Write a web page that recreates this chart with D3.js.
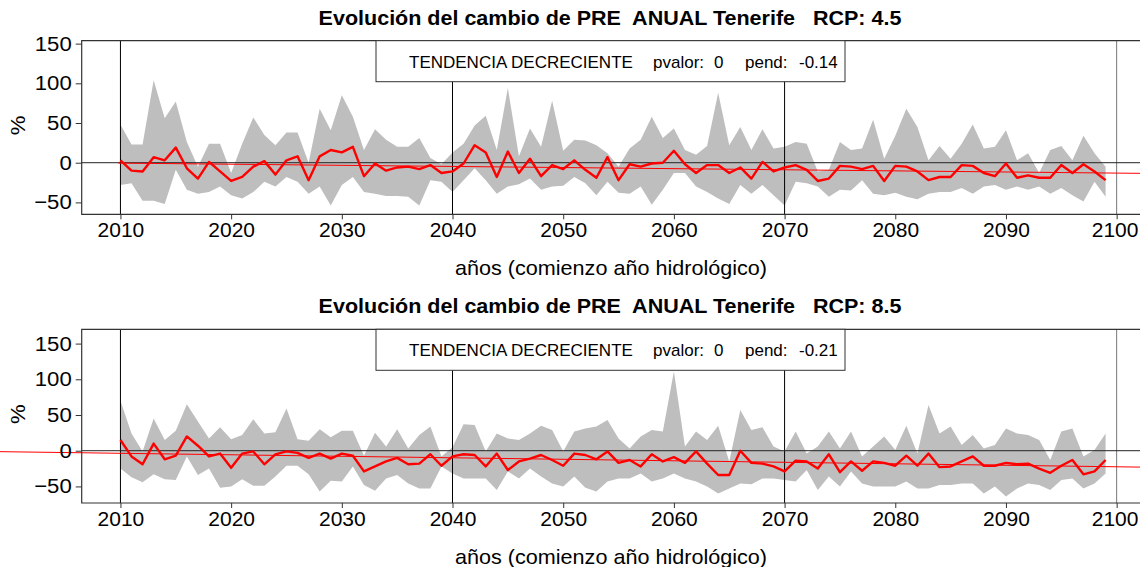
<!DOCTYPE html>
<html>
<head>
<meta charset="utf-8">
<script src="https://cdn.jsdelivr.net/npm/d3@7"></script>
<style>
  body { margin: 0; background: #fff; }
  svg text { font-family: "Liberation Sans", Arial, sans-serif; white-space: pre; }
</style>
</head>
<body>
<svg id="chart" width="1140" height="567"></svg>
<script>
// years (start of hydrological year)
const years = d3.range(2010, 2100);
const xTicks = [2010, 2020, 2030, 2040, 2050, 2060, 2070, 2080, 2090, 2100];
const yTicks = [-50, 0, 50, 100, 150];
const vLines = [2010, 2040, 2070, 2100];

// RCP 4.5
const rcp45Max = [48,23,23,104,56,77,26,-5,24,24,-13,24,57,35,22,38,38,0,68,41,85,58,16,42,29,20,20,31,6,-2,
  13,24,47,59,16,94,8,43,20,78,15,29,28,22,12,-5,18,29,58,31,43,16,10,21,88,22,45,16,42,18,
  20,26,24,-11,-9,26,16,18,54,5,34,68,45,3,21,5,24,48,18,20,41,3,12,-13,16,21,3,34,12,-5];
const rcp45Min = [-28,-26,-48,-48,-52,-9,-34,-39,-37,-30,-41,-45,-37,-24,-30,-18,-24,-39,-30,-54,-28,-18,-37,-39,-42,-42,-43,-54,-22,-24,
  -37,-22,-7,-22,-39,-30,-27,-20,-34,-30,-29,-18,-26,-41,-24,-38,-39,-30,-53,-34,-13,-13,-30,-37,-45,-52,-28,-39,-28,-41,
  -54,-24,-26,-30,-43,-34,-35,-22,-39,-41,-38,-43,-46,-39,-37,-37,-32,-39,-30,-28,-34,-30,-34,-30,-39,-32,-41,-49,-24,-43];
const rcp45Mean = [3,-10,-11,7,3,19,-7,-20,1,-11,-23,-18,-5,2,-15,3,8,-22,8,16,13,20,-17,-1,-10,-6,-5,-8,-3,-13,
  -11,-1,22,13,-18,14,-13,5,-17,-3,-8,3,-9,-19,7,-22,-2,-5,-1,0,15,-2,-13,-3,-3,-13,-6,-20,1,-11,
  -6,-3,-9,-23,-20,-4,-5,-8,-4,-23,-4,-5,-11,-22,-18,-18,-3,-4,-13,-17,-1,-19,-16,-19,-19,-3,-13,-2,-11,-22];

// RCP 8.5
const rcp85Max = [70,24,-1,45,15,28,65,41,17,33,16,22,44,24,26,59,16,14,30,19,28,28,-7,25,6,30,3,22,34,-8,
  5,37,36,-1,24,17,15,24,35,29,-1,27,31,34,43,17,3,20,29,27,111,6,27,15,35,-15,57,29,33,6,
  -1,27,-4,6,27,3,27,-8,6,20,1,35,-4,64,24,34,8,22,3,8,31,24,22,15,-13,27,31,-8,1,24];
const rcp85Min = [-25,-37,-44,-33,-40,-41,-8,-34,-25,-52,-50,-40,-49,-49,-36,-21,-21,-33,-57,-42,-43,-22,-48,-56,-39,-34,-46,-53,-53,-22,
  -32,-39,-39,-39,-55,-29,-39,-25,-36,-46,-50,-36,-52,-57,-43,-39,-39,-32,-43,-39,-32,-39,-43,-50,-60,-53,-46,-47,-39,-39,
  -41,-43,-27,-55,-36,-50,-29,-46,-50,-50,-50,-43,-53,-53,-48,-48,-46,-46,-60,-50,-64,-53,-46,-48,-55,-41,-39,-53,-46,-32];
const rcp85Mean = [15,-8,-19,10,-12,-7,20,7,-8,-4,-24,-4,-1,-19,-5,-1,-3,-10,-4,-11,-4,-7,-29,-22,-15,-10,-19,-18,-5,-21,
  -8,-5,-6,-22,-4,-27,-15,-11,-6,-13,-21,-4,-6,-12,-1,-17,-13,-22,-5,-15,-9,-17,-1,-18,-34,-34,0,-17,-18,-22,
  -29,-14,-15,-25,-5,-30,-15,-28,-15,-17,-21,-7,-21,-4,-23,-22,-15,-8,-21,-21,-17,-19,-18,-25,-31,-21,-13,-33,-29,-13];

// trend: value at 2010 and slope (pend)
const trend45 = { at2010: -0.5, pend: -0.14, pvalor: 0, from: 2009.8 };
const trend85 = { at2010: -3.6, pend: -0.21, pvalor: 0, from: null };

const panels = [
  { rcp: "4.5", max: rcp45Max, min: rcp45Min, mean: rcp45Mean, trend: trend45,
    top: 40.7, bottom: 214.3, yDomain: [-65, 153.7] },
  { rcp: "8.5", max: rcp85Max, min: rcp85Min, mean: rcp85Mean, trend: trend85,
    top: 329.3, bottom: 503, yDomain: [-73.2, 170] }
];

const svg = d3.select("#chart");
const W = 1140;
const SX = 1.08; // the original fonts are a bit wider than Liberation Sans
const x = d3.scaleLinear().domain([2006.5, 2102.1]).range([81.7, 1139.9]);

// text placed with a small horizontal stretch
function label(g, tx, ty, str, size, opts = {}) {
  return g.append("text")
    .attr("transform", `translate(${tx},${ty}) scale(${opts.sx || SX},1)`)
    .attr("text-anchor", opts.anchor || "middle")
    .style("font-size", size + "px")
    .style("font-weight", opts.bold ? "bold" : null)
    .text(str);
}

panels.forEach(p => {
  const y = d3.scaleLinear().domain(p.yDomain).range([p.bottom, p.top]);
  const g = svg.append("g");
  const rows = years.map((yr, i) => ({ yr, lo: p.min[i], hi: p.max[i], m: p.mean[i] }));

  // title
  label(g, 610, p.top - 16, "Evolución del cambio de PRE  ANUAL Tenerife   RCP: " + p.rcp, 20.5, { bold: true, sx: 1.05 });

  // band max/min
  g.append("path")
    .datum(rows)
    .attr("fill", "#bebebe")
    .attr("d", d3.area().x(d => x(d.yr)).y0(d => y(d.lo)).y1(d => y(d.hi)));

  // vertical reference lines
  g.selectAll(".vl").data(vLines).enter().append("line")
    .attr("x1", d => x(d)).attr("x2", d => x(d))
    .attr("y1", p.top).attr("y2", p.bottom)
    .attr("stroke", (d, i) => i == vLines.length - 1 ? "#777" : "#000")
    .attr("stroke-width", 1);

  // zero line
  g.append("line")
    .attr("x1", x.range()[0]).attr("x2", W)
    .attr("y1", y(0)).attr("y2", y(0))
    .attr("stroke", "#222").attr("stroke-width", 1);

  // trend line
  const t = p.trend;
  const tx0 = t.from == null ? x.invert(0) : t.from;
  const tx1 = x.invert(W);
  g.append("line")
    .attr("x1", x(tx0)).attr("x2", x(tx1))
    .attr("y1", y(t.at2010 + t.pend * (tx0 - 2010)))
    .attr("y2", y(t.at2010 + t.pend * (tx1 - 2010)))
    .attr("stroke", "#ff0000").attr("stroke-width", 1);

  // mean line
  g.append("path")
    .datum(rows)
    .attr("fill", "none")
    .attr("stroke", "#ff0000")
    .attr("stroke-width", 2.4)
    .attr("stroke-linejoin", "round")
    .attr("d", d3.line().x(d => x(d.yr)).y(d => y(d.m)));

  // plot box (left, top, bottom)
  g.append("path")
    .attr("fill", "none").attr("stroke", "#333").attr("stroke-width", 1.2)
    .attr("d", `M${W},${p.top}H${x.range()[0]}V${p.bottom}H${W}`);

  // y axis
  const ya = g.append("g")
    .attr("transform", `translate(${x.range()[0]},0)`)
    .call(d3.axisLeft(y).tickValues(yTicks).tickSize(6).tickPadding(4));
  ya.select(".domain").remove();
  ya.selectAll("line").attr("stroke", "#333");
  ya.selectAll("text").style("font-size", "20.5px").attr("fill", "#000")
    .attr("font-family", null)
    .attr("x", -10 / SX)
    .attr("transform", `scale(${SX},1)`);

  // x axis
  const xa = g.append("g")
    .attr("transform", `translate(0,${p.bottom})`)
    .call(d3.axisBottom(x).tickValues(xTicks).tickFormat(d3.format("d")).tickSize(5).tickPadding(4));
  xa.select(".domain").remove();
  xa.selectAll("line").attr("stroke", "#333");
  xa.selectAll("text").style("font-size", "20px").attr("fill", "#000")
    .attr("font-family", null)
    .attr("transform", `scale(1.05,1)`);
  // last label sits against the right edge, as in the original
  xa.selectAll(".tick").filter(d => d == 2100).select("text").attr("x", -2);

  // axis titles
  label(g, 611, p.bottom + 61, "años (comienzo año hidrológico)", 20);
  g.append("text")
    .attr("transform", `translate(25,${(p.top + p.bottom) / 2 - 2}) rotate(-90) scale(${SX},1)`)
    .attr("text-anchor", "middle")
    .style("font-size", "20.5px")
    .text("%");

  // legend box
  g.append("rect")
    .attr("x", 376).attr("y", p.top)
    .attr("width", 469).attr("height", 41)
    .attr("fill", "#fff").attr("stroke", "#333").attr("stroke-width", 1);
  const ly = p.top + 27;
  label(g, 409, ly, "TENDENCIA DECRECIENTE", 17, { anchor: "start", sx: 1 });
  label(g, 653, ly, "pvalor:", 17, { anchor: "start", sx: 1 });
  label(g, 714, ly, String(t.pvalor), 17, { anchor: "start", sx: 1 });
  label(g, 745, ly, "pend:", 17, { anchor: "start", sx: 1 });
  label(g, 799, ly, String(t.pend), 17, { anchor: "start", sx: 1 });
});
</script>
</body>
</html>
